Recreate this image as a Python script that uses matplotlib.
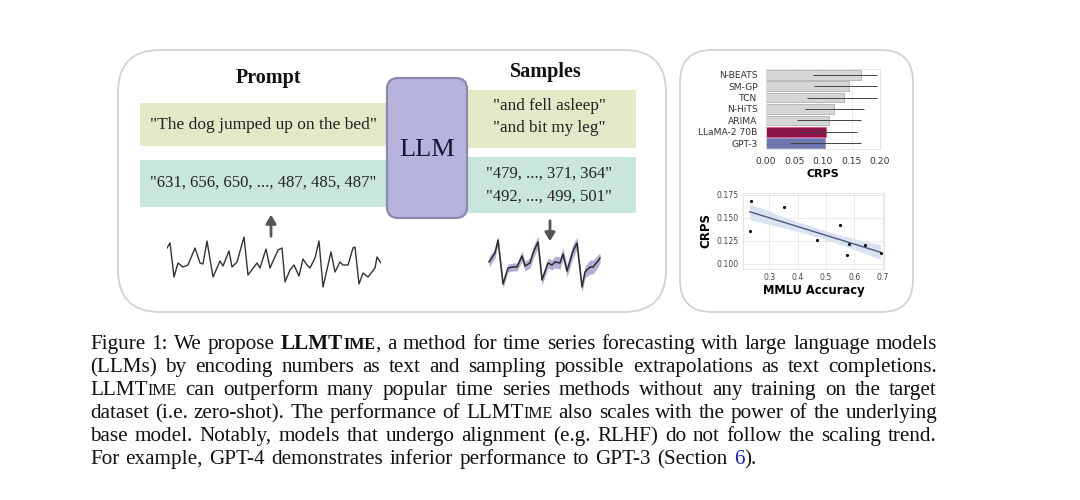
import numpy as np
import matplotlib
matplotlib.use('Agg')
from matplotlib import pyplot as plt
from matplotlib.patches import FancyBboxPatch
from matplotlib.ticker import FormatStrFormatter

# --- podaci: CRPS po metodi (stupci) ---
metode = ['N-BEATS', 'SM-GP', 'TCN', 'N-HiTS', 'ARIMA', 'LLaMA-2 70B', 'GPT-3']
crps = [0.166, 0.145, 0.136, 0.119, 0.110, 0.105, 0.104]
crps_dolje = [0.082, 0.084, 0.072, 0.069, 0.054, 0.060, 0.042]
crps_gore = [0.195, 0.195, 0.195, 0.172, 0.166, 0.160, 0.166]

# --- podaci: MMLU vs CRPS (tocke) ---
mmlu = [0.234, 0.231, 0.350, 0.469, 0.549, 0.572, 0.582, 0.637, 0.692]
crps_tocke = [0.168, 0.135, 0.162, 0.126, 0.142, 0.109, 0.121, 0.120, 0.111]

# --- vremenski niz (ulaz) ---
t_ulaz = [0, 3, 7, 11, 16, 21, 28, 33, 36, 40, 46, 53, 56, 62, 65, 70, 77, 81, 90, 93,
          99, 103, 111, 115, 118, 123, 127, 132, 136, 140, 143, 148, 152, 156, 164, 168,
          173, 176, 181, 186, 188, 192, 196, 201, 208, 210, 214]
v_ulaz = [42, 47, 13, 27, 23, 25, 42, 27, 26, 49, 13, 29, 24, 39, 23, 28, 53, 15, 27, 22,
          41, 22, 40, 42, 8, 20, 25, 14, 31, 25, 22, 32, 49, 3, 38, 18, 28, 25, 25, 42,
          43, 6, 17, 13, 22, 33, 27]

# --- vremenski niz (uzorci) ---
t_izlaz = [0, 6, 9, 14, 19, 24, 28, 33, 36, 41, 44, 49, 53, 59, 63, 66, 71, 74, 78, 84,
           88, 93, 96, 101, 104, 109, 111]
v_izlaz = [28, 37, 50, 6, 22, 23, 23, 34, 24, 27, 37, 48, 10, 27, 25, 28, 27, 36, 19, 39,
           47, 3, 18, 23, 23, 29, 32]
raspon_izlaz = [5, 5, 4, 4, 4, 4, 4, 5, 5, 5, 6, 6, 5, 5, 5, 6, 6, 6, 6, 7, 6, 5, 6, 7, 7, 6, 5]

# --- tekstovi ---
prompt_tekst = '"The dog jumped up on the bed"'
prompt_brojevi = '"631, 656, 650, ..., 487, 485, 487"'
uzorci_tekst = ['"and fell asleep"', '"and bit my leg"']
uzorci_brojevi = ['"479, ..., 371, 364"', '"492, ..., 499, 501"']
opis = [
    'Figure 1: We propose *LLMTIME, a method for time series forecasting with large language models',
    '(LLMs) by encoding numbers as text and sampling possible extrapolations as text completions.',
    'LLMTIME can outperform many popular time series methods without any training on the target',
    'dataset (i.e. zero-shot). The performance of LLMTIME also scales with the power of the underlying',
    'base model. Notably, models that undergo alignment (e.g. RLHF) do not follow the scaling trend.',
    'For example, GPT-4 demonstrates inferior performance to GPT-3 (Section 6).',
]

SERIF = 'Liberation Serif'
W, H = 1080, 500

fig = plt.figure(figsize=(W / 100, H / 100), dpi=100)
pozadina = fig.add_axes([0, 0, 1, 1])
pozadina.set_xlim(0, W)
pozadina.set_ylim(H, 0)
pozadina.axis('off')


def okvir(x0, y0, x1, y1, r, boja, rub='none', lw=0, z=1):
    p = FancyBboxPatch((x0, y0), x1 - x0, y1 - y0,
                       boxstyle=f'round,pad=0,rounding_size={r}',
                       facecolor=boja, edgecolor=rub, linewidth=lw, zorder=z)
    pozadina.add_patch(p)


# ploce
okvir(118, 50, 666, 312, 42, 'white', '#d2d2d2', 1.3)
okvir(680, 50, 913, 312, 32, 'white', '#d2d2d2', 1.3)

# kutije s tekstom
zelena = '#e4e8c6'
tirkizna = '#c9e6de'
okvir(140, 103, 400, 146, 1, zelena, z=2)
okvir(140, 160, 400, 207, 1, tirkizna, z=2)
okvir(455, 90, 636, 148, 1, zelena, z=2)
okvir(455, 157, 636, 213, 1, tirkizna, z=2)
okvir(387, 78, 467, 218, 11, '#b6b3dc', '#8a8aac', 1.6, z=3)

pozadina.text(268, 78, 'Prompt', family=SERIF, fontsize=14.5, fontweight='bold',
              ha='center', va='center', color='#111111')
pozadina.text(546, 72, 'Samples', family=SERIF, fontsize=14.5, fontweight='bold',
              ha='center', va='center', color='#111111')
pozadina.text(427, 150, 'LLM', family=SERIF, fontsize=19, ha='center', va='center',
              color='#161630', zorder=4)
pozadina.text(263, 125, prompt_tekst, family=SERIF, fontsize=12.5, ha='center',
              va='center', color='#222222', zorder=4)
pozadina.text(263, 183, prompt_brojevi, family=SERIF, fontsize=12, ha='center',
              va='center', color='#222222', zorder=4)
for i, s in enumerate(uzorci_tekst):
    pozadina.text(549, 106 + 22 * i, s, family=SERIF, fontsize=12.3, ha='center',
                  va='center', color='#222222', zorder=4)
for i, s in enumerate(uzorci_brojevi):
    pozadina.text(549, 174 + 23 * i, s, family=SERIF, fontsize=12, ha='center',
                  va='center', color='#222222', zorder=4)

# strelice
pozadina.annotate('', xy=(271, 212), xytext=(271, 239),
                  arrowprops=dict(arrowstyle='-|>,head_width=0.3,head_length=0.5',
                                  color='#555555', lw=2))
pozadina.annotate('', xy=(550, 244), xytext=(550, 218),
                  arrowprops=dict(arrowstyle='-|>,head_width=0.3,head_length=0.5',
                                  color='#555555', lw=2))

# vremenski nizovi
ax_ulaz = fig.add_axes([167 / W, 210 / H, 214 / W, 55 / H])
ax_ulaz.plot(t_ulaz, v_ulaz, color='#333333', lw=1.0)
ax_ulaz.set_xlim(0, 214)
ax_ulaz.set_ylim(0, 55)
ax_ulaz.axis('off')

ax_izlaz = fig.add_axes([489 / W, 210 / H, 111 / W, 55 / H])
v_iz = np.array(v_izlaz)
ras = np.array(raspon_izlaz)
ax_izlaz.fill_between(t_izlaz, v_iz - ras, v_iz + ras, color='#8178bd', alpha=0.6,
                      lw=0, clip_on=False)
ax_izlaz.plot(t_izlaz, v_izlaz, color='#2a2a2a', lw=1.1, clip_on=False)
ax_izlaz.set_xlim(0, 111)
ax_izlaz.set_ylim(0, 55)
ax_izlaz.axis('off')

# --- graf stupaca ---
ax_b = fig.add_axes([766 / W, (H - 149) / H, 114 / W, 80 / H])
boje = ['#d6d6d6'] * 5 + ['#8c1447', '#6e76b0']
rubovi = ['#b0b0b0'] * 5 + ['#e0558c', '#8a90c4']
y = np.arange(len(metode))
ax_b.barh(y, crps, height=0.85, color=boje, edgecolor=rubovi, linewidth=0.6, zorder=2)
xerr = [np.array(crps) - np.array(crps_dolje), np.array(crps_gore) - np.array(crps)]
ax_b.errorbar(crps, y, xerr=xerr, fmt='none', ecolor='#444444', elinewidth=0.7,
              capsize=0, zorder=3)
ax_b.set_ylim(len(metode) - 0.5, -0.5)
ax_b.set_xlim(0, 0.2)
ax_b.set_yticks(y)
ax_b.set_yticklabels(metode)
ax_b.set_xticks([0, 0.05, 0.1, 0.15, 0.2])
ax_b.xaxis.set_major_formatter(FormatStrFormatter('%.2f'))
ax_b.tick_params(labelsize=6.6, length=0, colors='#333333')
ax_b.tick_params(axis='y', pad=6)
ax_b.tick_params(axis='x', pad=6)
ax_b.set_xlabel('CRPS', fontsize=8, fontweight='bold', labelpad=2)
ax_b.grid(axis='x', color='#e8e8e8', lw=0.6, zorder=0)
for s in ax_b.spines.values():
    s.set_color('#e0e0e0')
    s.set_linewidth(0.6)

# --- graf tocaka ---
ax_s = fig.add_axes([743 / W, (H - 269) / H, 141 / W, 76 / H])
x = np.array(mmlu)
yv = np.array(crps_tocke)
k, b = np.polyfit(x, yv, 1)
xs = np.linspace(x.min(), x.max(), 100)
ys = k * xs + b
ost = yv - (k * x + b)
sig = np.sqrt(np.sum(ost ** 2) / (len(x) - 2))
se = sig * np.sqrt(1 / len(x) + (xs - x.mean()) ** 2 / np.sum((x - x.mean()) ** 2))
ax_s.fill_between(xs, ys - 1.0 * se, ys + 1.0 * se, color='#d3ddf2', alpha=0.85, lw=0, zorder=1)
ax_s.plot(xs, ys, color='#4b5a7e', lw=1.0, zorder=2)
ax_s.scatter(x, yv, s=5, color='black', zorder=3, lw=0)
ax_s.set_xlim(0.207, 0.704)
ax_s.set_ylim(0.094, 0.177)
ax_s.set_xticks([0.3, 0.4, 0.5, 0.6, 0.7])
ax_s.set_yticks([0.100, 0.125, 0.150, 0.175])
ax_s.xaxis.set_major_formatter(FormatStrFormatter('%.1f'))
ax_s.yaxis.set_major_formatter(FormatStrFormatter('%.3f'))
ax_s.tick_params(labelsize=5.6, length=0, pad=3, colors='#444444')
ax_s.set_xlabel('MMLU Accuracy', fontsize=8.3, fontweight='bold', labelpad=1)
ax_s.set_ylabel('CRPS', fontsize=8.5, fontweight='bold', labelpad=3)
ax_s.grid(color='#e6e6e6', lw=0.6, zorder=0)
for s in ax_s.spines.values():
    s.set_color('#e0e0e0')
    s.set_linewidth(0.6)

# --- opis slike (poravnato) ---
FS = 15.2
crna = '#111111'
plava = '#1a1acc'
renderer = fig.canvas.get_renderer()


def rastavi(rijec):
    fw = 'normal'
    if rijec.startswith('*'):
        rijec = rijec[1:]
        fw = 'bold'
    if 'LLMTIME' in rijec:
        pre, post = rijec.split('LLMTIME')
        dijelovi = [(pre + 'LLMT', FS, fw, crna), ('IME', FS * 0.76, fw, crna),
                    (post, FS, 'normal', crna)]
    elif rijec == '6).':
        dijelovi = [('6', FS, fw, plava), (').', FS, fw, crna)]
    else:
        dijelovi = [(rijec, FS, fw, crna)]
    return [d for d in dijelovi if d[0]]


def red(tekst, yb, poravnaj, x0=90, x1=937):
    rijeci = []
    for r in tekst.split(' '):
        arts = []
        for (t, fs, fw, c) in rastavi(r):
            a = pozadina.text(0, yb, t, family=SERIF, fontsize=fs, fontweight=fw,
                              color=c, va='baseline', ha='left')
            arts.append((a, a.get_window_extent(renderer).width))
        rijeci.append(arts)
    sirine = [sum(w for _, w in arts) for arts in rijeci]
    if poravnaj:
        razmak = (x1 - x0 - sum(sirine)) / (len(rijeci) - 1)
    else:
        razmak = FS * 100 / 72 * 0.3
    xp = x0
    for arts, sw in zip(rijeci, sirine):
        xx = xp
        for a, w in arts:
            a.set_x(xx)
            xx += w
        xp += sw + razmak


for i, linija in enumerate(opis):
    red(linija, 349 + 23 * i, i < len(opis) - 1)

fig.savefig('out.png', dpi=100)
